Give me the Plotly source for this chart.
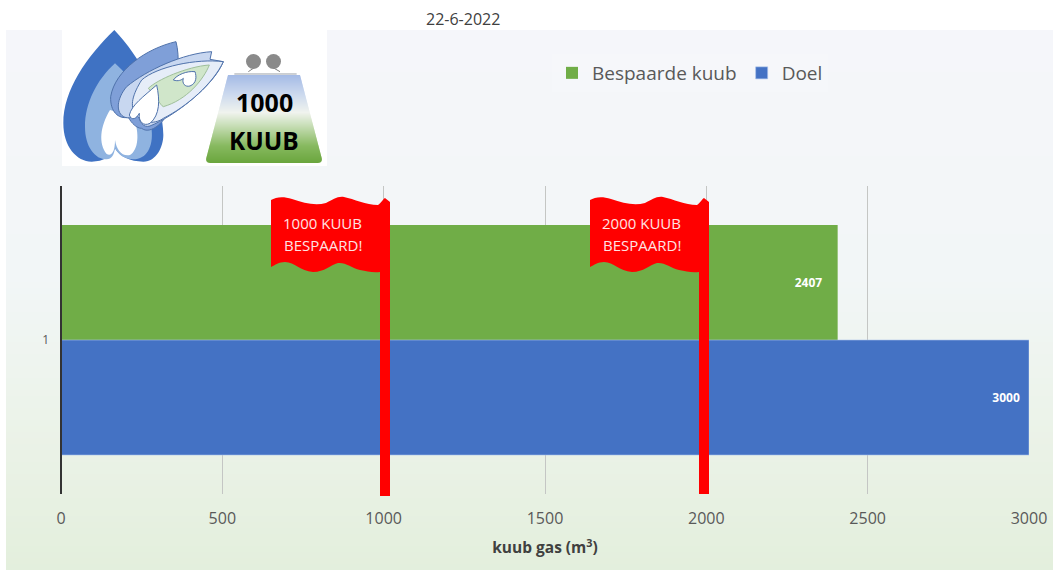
import re
import math
import plotly.graph_objects as go

# ---- data ----
categories = [1]
series_names = ["Bespaarde kuub", "Doel"]
saved_values = [2407]
goal_values = [3000]
x_ticks = [0, 500, 1000, 1500, 2000, 2500, 3000]
date_label = "22-6-2022"
x_title = "kuub gas (m<sup>3</sup>)"
flag_texts = [["1000 KUUB", "BESPAARD!"], ["2000 KUUB", "BESPAARD!"]]

GREEN = "#70ad47"
BLUE = "#4472c4"
RED = "#ff0000"
FONT = "Open Sans"
W, H = 1053, 570
L, R, T, B = 61, 1029, 186, 494


def px(x, y):
    return (x - L) / (R - L), (B - y) / (B - T)


def conv(path, scale=1.0, dx=0.0):
    def sub(m):
        a, b = px(float(m.group(1)) / scale + dx, float(m.group(2)) / scale)
        return f"{a:.5f},{b:.5f}"
    return re.sub(r"(-?[\d.]+),(-?[\d.]+)", sub, path)


def pshape(path, fill, line=None, lw=1, layer="above", scale=1.0, dx=0.0):
    return dict(type="path", xref="paper", yref="paper", layer=layer,
                path=conv(path, scale, dx), fillcolor=fill,
                line=dict(color=line or fill, width=lw if line else 0))


def rect(x0, y0, x1, y1, fill, layer="above"):
    a, b = px(x0, y0)
    c, d = px(x1, y1)
    return dict(type="rect", xref="paper", yref="paper", layer=layer,
                x0=a, y0=b, x1=c, y1=d, fillcolor=fill, line=dict(width=0))


def lerp(stops, t):
    for (t0, c0), (t1, c1) in zip(stops, stops[1:]):
        if t <= t1:
            f = (t - t0) / (t1 - t0)
            return "#" + "".join(f"{round(a + (b - a) * f):02x}" for a, b in zip(c0, c1))
    return "#" + "".join(f"{v:02x}" for v in stops[-1][1])


shapes = []

# panel background gradient
bg_stops = [(0.0, (245, 246, 250)), (0.45, (242, 246, 247)), (0.78, (234, 242, 230)), (1.0, (227, 239, 220))]
y = 30
while y < 570:
    shapes.append(rect(6, y, 1053, min(y + 6.5, 570), lerp(bg_stops, (y - 30) / 540), layer="below"))
    y += 6

# value axis base line
shapes.append(rect(60, 186, 62, 494, "#333333"))

# logo backdrop
shapes.append(rect(62, 30, 327, 166, "#ffffff"))

S = 3.0
OUT = "#4f72ab"
logo = [
    ("M343,90 C260,170 190,270 190,370 C190,440 230,485 275,485 C310,485 335,470 345,445 C360,470 390,485 430,485 C470,485 490,440 490,405 C490,300 420,170 343,90 Z", "#3f72c3", None),
    ("M345,190 C290,240 255,310 255,380 C255,440 285,478 320,478 C335,478 342,465 345,445 C355,465 375,478 400,478 C440,478 460,440 455,390 C450,310 400,240 345,190 Z", "#8fb3e0", None),
    ("M330,330 C300,380 295,430 320,462 C335,470 345,455 345,420 C350,450 365,470 390,465 C415,450 420,400 400,350 Z", "#ffffff", None),
    ("M528,125 C440,145 345,210 332,290 C330,335 355,358 385,352 C395,370 410,385 425,385 C450,405 500,370 520,300 C535,240 540,170 528,125 Z", "#7f9fd8", OUT),
    ("M635,155 C550,160 440,210 380,260 C350,295 345,340 375,352 C395,358 405,345 415,335 C415,365 430,385 450,378 C520,350 640,260 670,185 L630,178 Z", "#c8d7f0", OUT),
    ("M670,185 C590,175 470,200 425,240 C400,280 385,320 410,345 C430,375 470,370 490,355 C560,320 640,250 670,185 Z", "#e6edf8", OUT),
    ("M628,195 C560,200 470,240 445,265 C470,290 480,315 490,320 C560,300 610,240 628,195 Z", "#d0e6ca", "#9fbf9a"),
    ("M470,255 C430,290 395,315 388,345 C395,365 410,355 418,340 C415,365 430,380 450,370 C480,345 480,300 470,255 Z", "#ffffff", OUT),
    ("M585,215 C560,212 530,225 520,240 C535,245 545,240 550,235 C545,250 555,262 570,258 C590,250 590,230 585,215 Z", "#ffffff", OUT),
]
for p, fill, line in logo:
    shapes.append(pshape(p, fill, line, 1, scale=S))

# purse clasp
shapes.append(pshape("M745,215 L775,195", "rgba(0,0,0,0)", "#808080", 1, scale=S))
shapes.append(pshape("M840,215 L805,195", "rgba(0,0,0,0)", "#808080", 1, scale=S))
shapes.append(pshape("M703,222 L890,222", "rgba(0,0,0,0)", "#9aa0a8", 1, scale=S))
for cx in (253.5, 273.5):
    a, b = px(cx - 7.5, 54)
    c, d = px(cx + 7.5, 69)
    shapes.append(dict(type="circle", xref="paper", yref="paper", x0=a, y0=b, x1=c, y1=d,
                       fillcolor="#8a8a8a", line=dict(width=0)))


# purse body as gradient bands, with rounded lower corners
def purse_edges(yy):
    t = (yy - 75) / 88
    d = max(0.0, yy - 158)
    inset = 5 - math.sqrt(max(0.0, 25 - d * d))
    return 228 - 23 * t + inset, 300 + 23 * t - inset


purse_stops = [(0.0, (165, 187, 230)), (0.22, (205, 218, 238)), (0.42, (240, 243, 238)), (0.55, (205, 225, 190)), (0.8, (135, 185, 95)), (1.0, (105, 165, 60))]
py = 75.0
while py < 163:
    t2 = min(py + 1.4, 163)
    xl0, xr0 = purse_edges(py)
    xl1, xr1 = purse_edges(t2)
    shapes.append(pshape(f"M{xl0:.2f},{py:.2f} L{xr0:.2f},{py:.2f} L{xr1:.2f},{t2:.2f} L{xl1:.2f},{t2:.2f} Z",
                         lerp(purse_stops, (py - 75) / 88)))
    py += 1

# flags
flag_path = ("M271,200 C276,197 283,196 292,199 C304,203 315,206 326,203 C333,200 337,196 344,197 "
             "C354,199 366,205 378,205 C381,203 383,199 385,198 L390,202 L390,{b} L380,{b} L380,272 "
             "C372,273 367,271 360,270 C352,268 345,262 338,263 C330,265 325,272 313,272 C300,271 295,262 285,262 "
             "C279,262 275,265 271,267 Z")
flag_offsets = [0, 319]
flag_bottoms = [496, 494]
for off, bot in zip(flag_offsets, flag_bottoms):
    shapes.append(pshape(flag_path.format(b=bot), RED, dx=off))


def note(x, y, text, size, color, bold=False, anchor="center"):
    a, b = px(x, y)
    return dict(xref="paper", yref="paper", x=a, y=b, text=f"<b>{text}</b>" if bold else text,
                showarrow=False, xanchor=anchor, yanchor="middle",
                font=dict(family=FONT, size=size, color=color))


annotations = [
    note(463, 19, date_label, 16, "#404040"),
    note(264, 102, "1000", 25, "#000000", True),
    note(264, 140, "KUUB", 24.5, "#000000", True),
]
for (l1, l2), cx in zip(flag_texts, [322.5, 641.5]):
    annotations.append(note(cx, 223, l1, 15, "#ffe3e3"))
    annotations.append(note(cx, 245, l2, 15, "#ffe3e3"))

fig = go.Figure()
fig.add_bar(name=series_names[0], y=categories, x=saved_values, orientation="h",
            marker=dict(color=GREEN, line=dict(width=0)),
            text=[f"{v}\u00a0\u00a0\u00a0\u00a0" for v in saved_values], textposition="inside", insidetextanchor="end",
            textangle=0, textfont=dict(family=FONT, size=12, color="#ffffff", weight="bold"))
fig.add_bar(name=series_names[1], y=categories, x=goal_values, orientation="h",
            marker=dict(color=BLUE, line=dict(width=1, color="rgba(170,195,235,0.6)")),
            text=[f"{v}\u00a0\u00a0" for v in goal_values], textposition="inside", insidetextanchor="end",
            textangle=0, textfont=dict(family=FONT, size=12, color="#ffffff", weight="bold"))

fig.update_layout(
    width=W, height=H, autosize=False,
    margin=dict(l=L, r=W - R, t=T, b=H - B, pad=0),
    paper_bgcolor="#ffffff", plot_bgcolor="rgba(0,0,0,0)",
    barmode="group", bargap=0.253, bargroupgap=0,
    font=dict(family=FONT, color="#595959"),
    shapes=shapes, annotations=annotations,
    showlegend=True,
    legend=dict(orientation="h", x=(552 - L) / (R - L), y=(B - 54) / (B - T), xanchor="left", yanchor="top",
                bgcolor="rgba(255,255,255,0.15)", font=dict(family=FONT, size=19, color="#595959"),
                traceorder="normal"),
    xaxis=dict(range=[0, 3000], tickvals=x_ticks, showgrid=True, gridcolor="#c4c6c4", gridwidth=1,
               automargin=False, zeroline=False, showline=False, ticks="", ticklabelstandoff=13,
               tickfont=dict(family=FONT, size=16, color="#595959"),
               title=dict(text=x_title, standoff=14, font=dict(family=FONT, size=15.5, color="#404040", weight="bold"))),
    yaxis=dict(type="linear", range=[1.5, 0.5], tickvals=categories, ticktext=["1"], showgrid=False,
               automargin=False, zeroline=False, showline=False, ticks="", ticklabelstandoff=11,
               tickfont=dict(family=FONT, size=12, color="#595959")),
)

fig.write_html("out.html", config={"displayModeBar": False},
               post_script="document.body.style.margin='0';document.body.style.overflow='hidden';")
